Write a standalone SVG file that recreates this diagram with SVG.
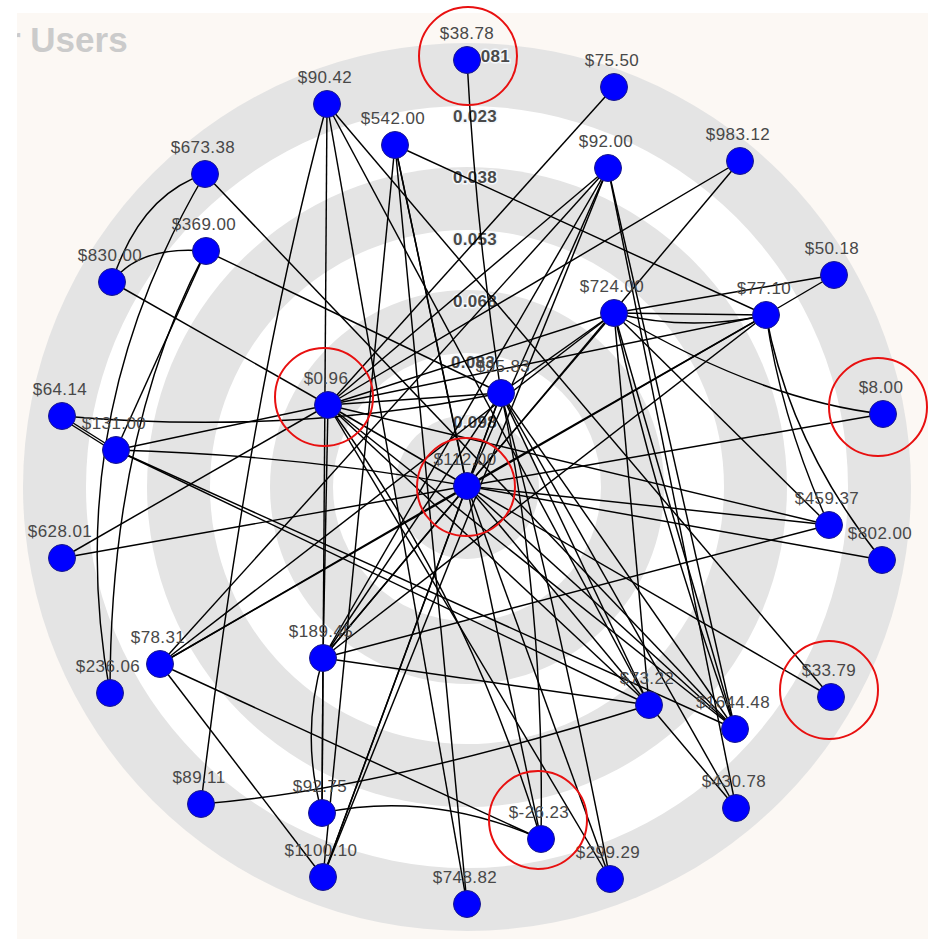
<svg xmlns="http://www.w3.org/2000/svg" width="938" height="939" viewBox="0 0 938 939">
  <style>
    .ring-g { fill: #e4e4e4; }
    .ring-w { fill: #ffffff; }
    .edge { stroke: #000; stroke-width: 1.45; fill: none; }
    .node circle { fill: #0000ff; stroke: #1a1a8c; stroke-width: 1; }
    .node text { font-family: "Liberation Sans", Arial, sans-serif; font-size: 17px; fill: #484848; text-anchor: middle; letter-spacing: 0.4px; }
    .axis { font-family: "Liberation Sans", Arial, sans-serif; font-size: 17px; font-weight: bold; fill: #4a4a4a; stroke: #f4f8fc; stroke-width: 3; paint-order: stroke; letter-spacing: 0.3px; }
    .hl { fill: none; stroke: #e81010; stroke-width: 2; }
    .title { font-family: "Liberation Sans", Arial, sans-serif; font-size: 35px; font-weight: bold; fill: #cbcbcb; }
  </style>
  <defs>
    <clipPath id="panel"><rect x="17" y="13" width="911" height="926"/></clipPath>
  </defs>

  <!-- page and panel -->
  <rect width="938" height="939" fill="#ffffff"/>
  <rect x="17" y="13" width="911" height="926" fill="#fcf8f4"/>

  <!-- concentric bands -->
  <g id="bands">
    <circle class="ring-g" cx="467" cy="487" r="444"/>
    <circle class="ring-w" cx="467" cy="487" r="381"/>
    <circle class="ring-g" cx="467" cy="487" r="320"/>
    <circle class="ring-w" cx="467" cy="487" r="257"/>
    <circle class="ring-g" cx="467" cy="487" r="197"/>
    <circle class="ring-w" cx="467" cy="487" r="134"/>
    <circle class="ring-g" cx="467" cy="487" r="72"/>
  </g>

  <text class="title" x="7" y="52" clip-path="url(#panel)">r Users</text>

  <!-- band scale -->
  <g id="scale">
    <text class="axis" x="466" y="62">0.081</text>
    <text class="axis" x="453" y="122">0.023</text>
    <text class="axis" x="453" y="183">0.038</text>
    <text class="axis" x="453" y="245">0.053</text>
    <text class="axis" x="453" y="307">0.068</text>
    <text class="axis" x="451" y="368">0.083</text>
    <text class="axis" x="453" y="428">0.098</text>
  </g>

  <g id="edges">
    <path class="edge" d="M467,60 Q476,230 501,393"/>
    <line class="edge" x1="614" y1="87" x2="328" y2="405"/>
    <path class="edge" d="M327,104 Q250,390 201,804"/>
    <line class="edge" x1="327" y1="104" x2="322" y2="813"/>
    <line class="edge" x1="327" y1="104" x2="467" y2="904"/>
    <line class="edge" x1="327" y1="104" x2="649" y2="705"/>
    <line class="edge" x1="327" y1="104" x2="831" y2="697"/>
    <line class="edge" x1="395" y1="145" x2="766" y2="315"/>
    <line class="edge" x1="395" y1="145" x2="467" y2="904"/>
    <line class="edge" x1="395" y1="145" x2="323" y2="877"/>
    <line class="edge" x1="395" y1="145" x2="541" y2="839"/>
    <line class="edge" x1="395" y1="145" x2="467" y2="486"/>
    <line class="edge" x1="608" y1="168" x2="328" y2="405"/>
    <line class="edge" x1="608" y1="168" x2="323" y2="658"/>
    <line class="edge" x1="608" y1="168" x2="323" y2="877"/>
    <line class="edge" x1="608" y1="168" x2="467" y2="486"/>
    <line class="edge" x1="608" y1="168" x2="160" y2="664"/>
    <line class="edge" x1="608" y1="168" x2="735" y2="729"/>
    <line class="edge" x1="608" y1="168" x2="736" y2="808"/>
    <line class="edge" x1="740" y1="161" x2="328" y2="405"/>
    <line class="edge" x1="740" y1="161" x2="323" y2="658"/>
    <path class="edge" d="M205,174 Q140,195 112,282"/>
    <path class="edge" d="M205,174 Q60,420 110,693"/>
    <line class="edge" x1="205" y1="174" x2="735" y2="729"/>
    <path class="edge" d="M206,251 Q140,245 112,282"/>
    <path class="edge" d="M206,251 Q110,430 110,693"/>
    <line class="edge" x1="206" y1="251" x2="116" y2="450"/>
    <line class="edge" x1="206" y1="251" x2="501" y2="393"/>
    <line class="edge" x1="112" y1="282" x2="328" y2="405"/>
    <line class="edge" x1="834" y1="275" x2="614" y2="313"/>
    <line class="edge" x1="834" y1="275" x2="766" y2="315"/>
    <line class="edge" x1="614" y1="313" x2="766" y2="315"/>
    <path class="edge" d="M614,313 Q690,332 766,315"/>
    <line class="edge" x1="614" y1="313" x2="328" y2="405"/>
    <line class="edge" x1="614" y1="313" x2="501" y2="393"/>
    <line class="edge" x1="614" y1="313" x2="467" y2="486"/>
    <path class="edge" d="M614,313 Q760,400 883,414"/>
    <line class="edge" x1="614" y1="313" x2="735" y2="729"/>
    <path class="edge" d="M614,313 Q660,520 735,729"/>
    <line class="edge" x1="614" y1="313" x2="649" y2="705"/>
    <line class="edge" x1="614" y1="313" x2="829" y2="525"/>
    <line class="edge" x1="614" y1="313" x2="160" y2="664"/>
    <line class="edge" x1="766" y1="315" x2="328" y2="405"/>
    <line class="edge" x1="766" y1="315" x2="467" y2="486"/>
    <path class="edge" d="M766,315 Q782,422 829,525"/>
    <path class="edge" d="M766,315 Q790,445 882,560"/>
    <line class="edge" x1="766" y1="315" x2="160" y2="664"/>
    <line class="edge" x1="766" y1="315" x2="323" y2="658"/>
    <line class="edge" x1="328" y1="405" x2="116" y2="450"/>
    <line class="edge" x1="328" y1="405" x2="501" y2="393"/>
    <line class="edge" x1="328" y1="405" x2="467" y2="486"/>
    <line class="edge" x1="328" y1="405" x2="62" y2="558"/>
    <line class="edge" x1="328" y1="405" x2="323" y2="658"/>
    <path class="edge" d="M328,405 Q470,600 541,839"/>
    <line class="edge" x1="328" y1="405" x2="649" y2="705"/>
    <line class="edge" x1="328" y1="405" x2="735" y2="729"/>
    <line class="edge" x1="328" y1="405" x2="610" y2="879"/>
    <line class="edge" x1="328" y1="405" x2="829" y2="525"/>
    <path class="edge" d="M62,416 Q290,436 501,393"/>
    <line class="edge" x1="501" y1="393" x2="323" y2="658"/>
    <line class="edge" x1="501" y1="393" x2="323" y2="877"/>
    <path class="edge" d="M501,393 Q545,600 541,839"/>
    <line class="edge" x1="501" y1="393" x2="736" y2="808"/>
    <line class="edge" x1="501" y1="393" x2="735" y2="729"/>
    <line class="edge" x1="501" y1="393" x2="649" y2="705"/>
    <path class="edge" d="M501,393 Q560,620 610,879"/>
    <line class="edge" x1="501" y1="393" x2="467" y2="486"/>
    <line class="edge" x1="467" y1="486" x2="62" y2="558"/>
    <line class="edge" x1="467" y1="486" x2="160" y2="664"/>
    <path class="edge" d="M467,486 Q300,455 116,450"/>
    <line class="edge" x1="467" y1="486" x2="883" y2="414"/>
    <line class="edge" x1="467" y1="486" x2="882" y2="560"/>
    <line class="edge" x1="467" y1="486" x2="829" y2="525"/>
    <line class="edge" x1="467" y1="486" x2="649" y2="705"/>
    <line class="edge" x1="467" y1="486" x2="735" y2="729"/>
    <line class="edge" x1="467" y1="486" x2="831" y2="697"/>
    <line class="edge" x1="467" y1="486" x2="610" y2="879"/>
    <line class="edge" x1="467" y1="486" x2="323" y2="658"/>
    <line class="edge" x1="467" y1="486" x2="323" y2="877"/>
    <line class="edge" x1="62" y1="416" x2="116" y2="450"/>
    <line class="edge" x1="64" y1="420" x2="118" y2="454"/>
    <line class="edge" x1="116" y1="450" x2="649" y2="705"/>
    <line class="edge" x1="116" y1="450" x2="735" y2="729"/>
    <line class="edge" x1="323" y1="658" x2="322" y2="813"/>
    <path class="edge" d="M323,658 Q300,735 322,813"/>
    <line class="edge" x1="323" y1="658" x2="829" y2="525"/>
    <line class="edge" x1="323" y1="658" x2="649" y2="705"/>
    <line class="edge" x1="160" y1="664" x2="541" y2="839"/>
    <line class="edge" x1="160" y1="664" x2="323" y2="877"/>
    <path class="edge" d="M201,804 Q380,790 649,705"/>
    <path class="edge" d="M322,813 Q430,790 541,839"/>
    <line class="edge" x1="649" y1="705" x2="736" y2="808"/>
  </g>

  <g id="n3878" class="node"><circle cx="467" cy="60" r="13.5"/><text x="467" y="39">$38.78</text></g>
  <g id="n7550" class="node"><circle cx="614" cy="87" r="13.5"/><text x="612" y="66">$75.50</text></g>
  <g id="n9042" class="node"><circle cx="327" cy="104" r="13.5"/><text x="325" y="83">$90.42</text></g>
  <g id="n54200" class="node"><circle cx="395" cy="145" r="13.5"/><text x="393" y="124">$542.00</text></g>
  <g id="n9200" class="node"><circle cx="608" cy="168" r="13.5"/><text x="606" y="147">$92.00</text></g>
  <g id="n98312" class="node"><circle cx="740" cy="161" r="13.5"/><text x="738" y="140">$983.12</text></g>
  <g id="n67338" class="node"><circle cx="205" cy="174" r="13.5"/><text x="203" y="153">$673.38</text></g>
  <g id="n36900" class="node"><circle cx="206" cy="251" r="13.5"/><text x="204" y="230">$369.00</text></g>
  <g id="n83000" class="node"><circle cx="112" cy="282" r="13.5"/><text x="110" y="261">$830.00</text></g>
  <g id="n5018" class="node"><circle cx="834" cy="275" r="13.5"/><text x="832" y="254">$50.18</text></g>
  <g id="n72400" class="node"><circle cx="614" cy="313" r="13.5"/><text x="612" y="292">$724.00</text></g>
  <g id="n7710" class="node"><circle cx="766" cy="315" r="13.5"/><text x="764" y="294">$77.10</text></g>
  <g id="n096" class="node"><circle cx="328" cy="405" r="13.5"/><text x="326" y="384">$0.96</text></g>
  <g id="n9583" class="node"><circle cx="501" cy="393" r="13.5"/><text x="503" y="372">$95.83</text></g>
  <g id="n6414" class="node"><circle cx="62" cy="416" r="13.5"/><text x="60" y="395">$64.14</text></g>
  <g id="n13100" class="node"><circle cx="116" cy="450" r="13.5"/><text x="114" y="429">$131.00</text></g>
  <g id="n800" class="node"><circle cx="883" cy="414" r="13.5"/><text x="881" y="393">$8.00</text></g>
  <g id="n11200" class="node"><circle cx="467" cy="486" r="13.5"/><text x="465" y="465">$112.00</text></g>
  <g id="n45937" class="node"><circle cx="829" cy="525" r="13.5"/><text x="827" y="504">$459.37</text></g>
  <g id="n80200" class="node"><circle cx="882" cy="560" r="13.5"/><text x="880" y="539">$802.00</text></g>
  <g id="n62801" class="node"><circle cx="62" cy="558" r="13.5"/><text x="60" y="537">$628.01</text></g>
  <g id="n18945" class="node"><circle cx="323" cy="658" r="13.5"/><text x="321" y="637">$189.45</text></g>
  <g id="n7831" class="node"><circle cx="160" cy="664" r="13.5"/><text x="158" y="643">$78.31</text></g>
  <g id="n23606" class="node"><circle cx="110" cy="693" r="13.5"/><text x="108" y="672">$236.06</text></g>
  <g id="n7322" class="node"><circle cx="649" cy="705" r="13.5"/><text x="647" y="684">$73.22</text></g>
  <g id="n164448" class="node"><circle cx="735" cy="729" r="13.5"/><text x="733" y="708">$1644.48</text></g>
  <g id="n3379" class="node"><circle cx="831" cy="697" r="13.5"/><text x="829" y="676">$33.79</text></g>
  <g id="n8911" class="node"><circle cx="201" cy="804" r="13.5"/><text x="199" y="783">$89.11</text></g>
  <g id="n9275" class="node"><circle cx="322" cy="813" r="13.5"/><text x="320" y="792">$92.75</text></g>
  <g id="n43078" class="node"><circle cx="736" cy="808" r="13.5"/><text x="734" y="787">$430.78</text></g>
  <g id="n2623" class="node"><circle cx="541" cy="839" r="13.5"/><text x="539" y="818">$-26.23</text></g>
  <g id="n110010" class="node"><circle cx="323" cy="877" r="13.5"/><text x="321" y="856">$1100.10</text></g>
  <g id="n74882" class="node"><circle cx="467" cy="904" r="13.5"/><text x="465" y="883">$748.82</text></g>
  <g id="n29929" class="node"><circle cx="610" cy="879" r="13.5"/><text x="608" y="858">$299.29</text></g>

  <!-- highlight rings -->
  <g id="highlights">
    <circle class="hl" cx="468" cy="56" r="49"/>
    <circle class="hl" cx="324" cy="397" r="49"/>
    <circle class="hl" cx="466" cy="487" r="49"/>
    <circle class="hl" cx="878" cy="407" r="49"/>
    <circle class="hl" cx="829" cy="690" r="49"/>
    <circle class="hl" cx="538" cy="820" r="49"/>
  </g>
</svg>
